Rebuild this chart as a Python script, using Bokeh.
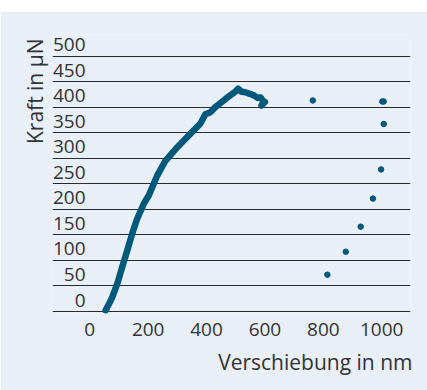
from bokeh.plotting import figure
from bokeh.layouts import column
from bokeh.models import Range1d, FixedTicker, LabelSet, ColumnDataSource, Title, Spacer
from bokeh.core.properties import value
from bokeh.embed import file_html
from bokeh.resources import INLINE

# Loading curve (displacement nm, force µN)
curve_x = [54, 65, 77, 94, 111, 128, 145, 162, 185, 202, 231, 259, 294, 328, 352, 379, 396, 413,
           430, 448, 465, 488, 500, 508, 520, 533, 548, 562, 575, 585, 596, 588, 600]
curve_y = [2, 14, 28, 54, 87, 119, 152, 181, 211, 227, 266, 295, 318, 338, 352, 368, 386, 390,
           400, 408, 416, 426, 431, 436, 430, 429, 426, 423, 418, 419, 410, 403, 410]

# Isolated points
dot_x = [764, 1002, 1007, 1007, 998, 970, 928, 877, 814]
dot_y = [413, 411, 411, 367, 278, 221, 166, 117, 72]

y_ticks = [0, 50, 100, 150, 200, 250, 300, 350, 400, 450, 500]
y_labels = [str(v) for v in y_ticks]
x_ticks = [0, 200, 400, 600, 800, 1000]

x_title = "Verschiebung in nm"
y_title = "Kraft in µN"

BG = "#e9eff6"
TXT = "#333333"
BLUE = "#00587a"
FONT = "Open Sans"

p = figure(output_backend="svg", toolbar_location=None,
           frame_width=358, frame_height=279,
           min_border_left=52, min_border_right=17, min_border_top=23, min_border_bottom=77,
           x_range=Range1d(-127.8, 1098.7), y_range=Range1d(-3.9, 542.1))
p.background_fill_color = BG
p.border_fill_color = BG
p.outline_line_color = None

p.yaxis.visible = False
p.yaxis.ticker = FixedTicker(ticks=y_ticks)
p.ygrid.ticker = FixedTicker(ticks=y_ticks)
p.ygrid.grid_line_color = "#2a2a2a"
p.ygrid.grid_line_width = 1
p.xgrid.visible = False

p.xaxis.ticker = FixedTicker(ticks=x_ticks)
p.xaxis.axis_line_color = None
p.xaxis.major_tick_line_color = None
p.xaxis.minor_tick_line_color = None
p.xaxis.major_label_text_font = FONT
p.xaxis.major_label_text_font_size = "19px"
p.xaxis.major_label_text_color = TXT
p.xaxis.major_label_standoff = 3

p.line(curve_x, curve_y, line_color=BLUE, line_width=6.5, line_join="round", line_cap="round")
p.scatter(dot_x, dot_y, size=5.5, fill_color=BLUE, line_color=BLUE)

# y tick labels sit above their grid lines, inside the frame (x in frame-relative px)
src = ColumnDataSource(dict(y=y_ticks, t=y_labels, x=[33] * len(y_ticks)))
p.add_layout(LabelSet(x="x", y="y", text="t", source=src, x_units="screen", y_units="data",
                      text_align="right", text_baseline="alphabetic", y_offset=5,
                      text_font=value(FONT), text_font_size="19px", text_color=TXT))

p.add_layout(Title(text=x_title, align="right", offset=-2, standoff=15,
                   text_font=FONT, text_font_size="21px", text_font_style="normal",
                   text_color=TXT), "below")
p.add_layout(Title(text=y_title, align="right", offset=4, standoff=8,
                   text_font=FONT, text_font_size="21px", text_font_style="normal",
                   text_color=TXT), "left")

layout = column(Spacer(height=11, width=427), p, spacing=0)
open("out.html", "w").write(file_html(layout, INLINE))
